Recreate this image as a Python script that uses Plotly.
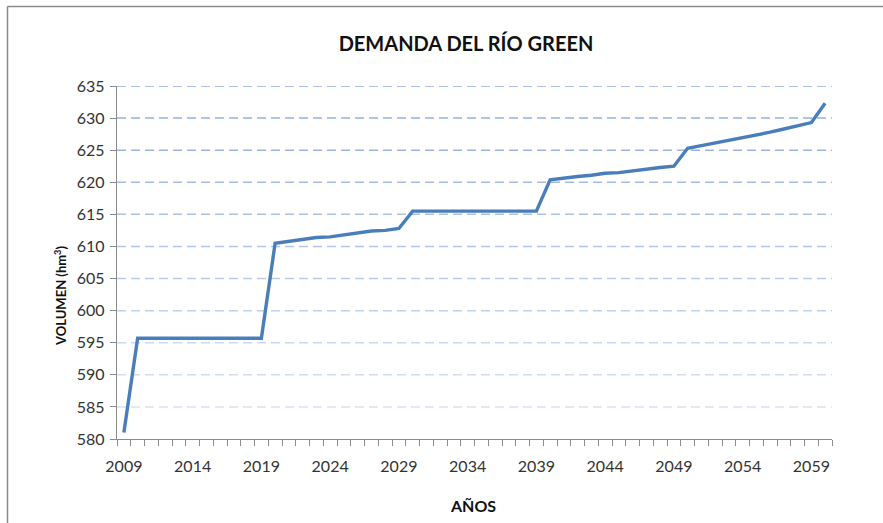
import plotly.graph_objects as go

# datos
anios = list(range(2009, 2061))
volumen = [581.0, 595.7, 595.7, 595.7, 595.7, 595.7, 595.7, 595.7, 595.7, 595.7, 595.7,
           610.5, 610.8, 611.1, 611.4, 611.5, 611.8, 612.1, 612.4, 612.5, 612.8,
           615.5, 615.5, 615.5, 615.5, 615.5, 615.5, 615.5, 615.5, 615.5, 615.5,
           620.4, 620.7, 620.9, 621.1, 621.4, 621.5, 621.8, 622.1, 622.3, 622.5,
           625.3, 625.7, 626.1, 626.6, 627.0, 627.4, 627.8, 628.3, 628.8, 629.3,
           632.3]
ticks_x = list(range(2009, 2060, 5))
ticks_y = list(range(580, 636, 5))

W, H = 883, 523
L, R, T, B = 117, 51, 86, 84
pw, ph = W - L - R, H - T - B

fig = go.Figure()

# lineas de rejilla discontinuas, mas claras hacia abajo
for k, v in enumerate(ticks_y[1:]):
    a = 0.35 + 0.65 * k / (len(ticks_y) - 2)
    fig.add_shape(type="line", xref="paper", yref="y", x0=0, x1=1, y0=v, y1=v,
                  line=dict(color="rgba(110,150,220,%.2f)" % (a * 0.8), width=1.5, dash="9px,5px"),
                  layer="below")

fig.add_trace(go.Scatter(x=anios, y=volumen, mode="lines",
                         line=dict(color="#4a7ebb", width=3.4), showlegend=False))

# marco exterior (solo se ven el borde izquierdo y el superior)
bx0 = (7.5 - L) / pw
by1 = (H - 6.5 - B) / ph
fig.add_shape(type="line", xref="paper", yref="paper", x0=bx0, x1=bx0, y0=-(H - T - ph + 5) / ph, y1=by1,
              line=dict(color="#8a8a8a", width=1.5))
fig.add_shape(type="line", xref="paper", yref="paper", x0=bx0, x1=(W + 5 - L) / pw, y0=by1, y1=by1,
              line=dict(color="#8a8a8a", width=1.5))

fig.add_annotation(text="<b>VOLUMEN (hm<sup>3</sup>)</b>", xref="paper", yref="paper",
                   x=(60 - L) / pw, y=(H - B - 296) / ph, xanchor="center", yanchor="middle",
                   textangle=-90, showarrow=False, font=dict(size=13, color="#111"))
fig.add_annotation(text="<b>AÑOS</b>", xref="paper", yref="paper",
                   x=(473 - L) / pw, y=(H - B - 506) / ph, xanchor="center", yanchor="middle",
                   showarrow=False, font=dict(size=16, color="#111"))

fig.update_layout(
    width=W, height=H,
    margin=dict(l=L, r=R, t=T, b=B),
    paper_bgcolor="white", plot_bgcolor="white",
    font=dict(family="Lato, Open Sans, sans-serif", color="#222"),
    title=dict(text="<b>DEMANDA DEL RÍO GREEN</b>", x=466 / W, xanchor="center",
               y=1 - 44 / H, yanchor="middle", font=dict(size=20, color="#111")),
)

fig.update_xaxes(range=[2008.5, 2060.5], tickvals=ticks_x, ticks="", showgrid=False,
                 showline=True, linecolor="#8c8c8c", linewidth=1.3,
                 tickfont=dict(size=16, color="#333"), ticklabelstandoff=13,
                 minor=dict(tick0=2008.5, dtick=1, ticks="outside", ticklen=6,
                            tickcolor="#8c8c8c", showgrid=False),
                 zeroline=False)

fig.update_yaxes(range=[580, 635], tickvals=ticks_y, ticks="outside", ticklen=6,
                 tickcolor="#8c8c8c", showgrid=False,
                 showline=True, linecolor="#8c8c8c", linewidth=1.3,
                 tickfont=dict(size=16, color="#333"), ticklabelstandoff=2,
                 zeroline=False)

fig.write_html("out.html", config={"displayModeBar": False},
               post_script="document.body.style.margin='0';")
